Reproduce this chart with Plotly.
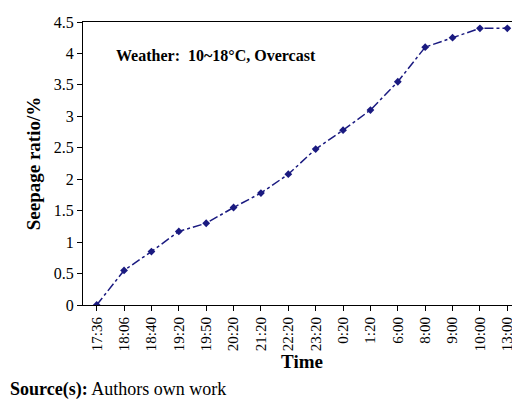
import plotly.graph_objects as go

times = ["17:36","18:06","18:40","19:20","19:50","20:20","21:20","22:20","23:20","0:20","1:20","6:00","8:00","9:00","10:00","13:00"]
ratio = [0.0,0.55,0.85,1.17,1.3,1.55,1.78,2.08,2.48,2.78,3.1,3.55,4.1,4.25,4.4,4.4]
yticks = [0,0.5,1,1.5,2,2.5,3,3.5,4,4.5]
yticklabels = ["0","0.5","1","1.5","2","2.5","3","3.5","4","4.5"]

fig = go.Figure(go.Scatter(x=list(range(len(times))), y=ratio, mode="lines+markers",
    line=dict(color="#1a1a80", width=1.5, dash="dashdot"),
    marker=dict(symbol="diamond", size=6, color="#1a1a80")))
F = "Liberation Serif"
fig.update_layout(width=520, height=400, paper_bgcolor="white", plot_bgcolor="white",
    margin=dict(l=75, r=6, t=10, b=103), showlegend=False,
    font=dict(family=F, color="black"),
    annotations=[
        dict(text="<b>Weather:  10~18°C, Overcast</b>", x=0.07, y=0.88, xref="paper", yref="paper",
             xanchor="left", yanchor="middle", showarrow=False, font=dict(size=16)),
        dict(text="<b>Source(s):</b> Authors own work", x=-75/439, y=-73/287, xref="paper", yref="paper",
             xanchor="left", yanchor="top", showarrow=False, font=dict(size=18)),
    ])
fig.update_xaxes(tickvals=list(range(len(times))), ticktext=times, tickangle=-90, range=[-0.5,15.5],
    showline=True, linecolor="black", mirror=True, ticks="outside", tickcolor="black",
    tickfont=dict(size=15), title=dict(text="<b>Time</b>", font=dict(size=19), standoff=0), showgrid=False)
fig.update_yaxes(range=[0,4.5], tickvals=yticks, ticktext=yticklabels, showline=True, linecolor="black", mirror=True,
    ticks="outside", tickcolor="black", tickfont=dict(size=16), showgrid=False,
    title=dict(text="<b>Seepage ratio/%</b>", font=dict(size=19), standoff=8))
fig.write_html("out.html")
